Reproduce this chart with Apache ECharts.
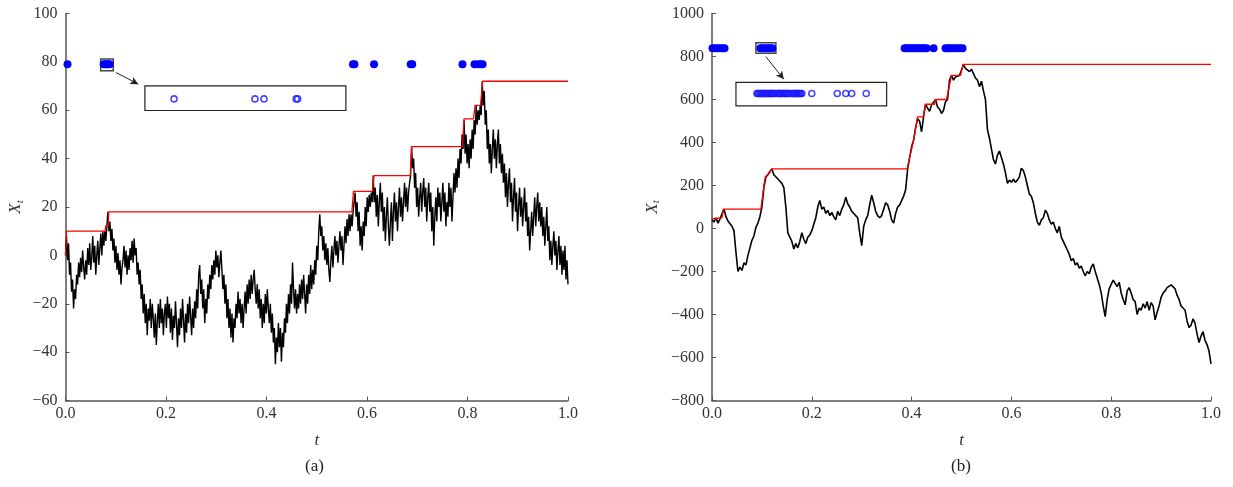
<!DOCTYPE html>
<html><head><meta charset="utf-8">
<script src="https://cdn.jsdelivr.net/npm/echarts@6/dist/echarts.min.js"></script>
<style>html,body{margin:0;padding:0;background:#fff}#c{width:1233px;height:487px}</style>
</head><body><div id="c"></div>
<script>
// ---------- data ----------
const xTickLabels = ['0.0', '0.2', '0.4', '0.6', '0.8', '1.0'];
const captions = ['(a)', '(b)'];

// (a) path values, sampled evenly over t in [0,1]
const leftPath = [
0,8,-2,5,-8,-3,-15,-10,-22,-14,
-18,-8,-12,-3,-9,-1,-7,2,-5,-10,
-2,-8,3,-4,5,-6,-1,8,-3,4,
-8,0,6,-4,3,9,0,10,4,10,
6,12,
18,10,14,6,11,2,7,-3,4,-6,
1,-8,-2,-12,-5,-2,4,-5,2,-8,
0,-6,3,-2,6,-3,7,0,3,-8,
-3,-12,-6,-18,-12,-24,-16,-28,-20,-33,
-22,-27,-18,-30,-20,-26,-34,-24,-37,-27,
-20,-30,-18,-28,-22,-33,-24,-20,-30,-17,
-26,-20,-32,-22,-35,-25,-30,-19,-28,-38,
-26,-33,-22,-30,-18,-27,-36,-24,-32,-20,
-28,-17,-25,-33,-22,-30,-19,-26,-14,-22,
-8,-4,-16,-10,-22,-14,-28,-18,-24,-12,
-18,-8,-14,-4,-10,-2,-8,2,-5,0,
-9,-3,2,-6,-14,-8,-20,-12,-26,-18,
-30,-22,-34,-24,-36,-26,-30,-20,-26,-15,
-24,-18,-28,-20,-30,-22,-15,-24,-12,-20,
-10,-18,-8,-16,-10,-6,-14,-20,-12,-22,
-14,-26,-18,-30,-20,-28,-16,-24,-14,-22,
-28,-20,-32,-24,-36,-30,-45,-34,-40,-28,
-38,-30,-44,-32,-38,-26,-32,-20,-28,-16,
-24,-12,-20,-3,-14,-22,-14,-24,-16,-22,
-12,-20,-10,-18,-8,-16,-24,-12,-20,-8,
-16,-4,-14,-6,-12,-2,-8,4,-2,10,
17,8,12,2,8,-2,5,-4,3,-6,
-11,-2,4,-5,2,8,0,6,-3,4,
10,2,8,-4,4,12,5,15,8,17,
10,17,12,18,22,26,16,22,10,18,
4,12,2,14,8,20,12,24,18,25,
20,26,22,33,22,28,16,25,12,22,
30,18,26,10,20,6,16,24,12,4,
14,22,6,18,26,14,22,10,20,28,
16,24,14,22,30,20,28,18,26,30,
33,45,36,40,28,34,20,28,16,24,30,
18,26,32,20,28,14,24,30,18,26,
10,20,4,16,24,14,28,20,26,14,
22,30,18,26,12,22,16,30,20,28,
14,24,34,26,36,28,40,32,44,38,
50,44,56,42,50,38,46,36,48,40,
52,44,56,50,62,54,60,56,62,58,
72,62,68,54,60,44,52,38,46,34,
44,52,40,48,36,46,52,38,46,34,
42,30,38,24,34,20,30,36,22,30,
14,24,32,18,26,10,20,28,16,24,
12,20,28,14,22,8,16,2,10,18,
8,16,24,12,20,26,14,22,12,20,
8,16,4,12,20,6,12,-2,6,-4,
4,10,0,6,-6,2,8,-4,4,-8,
2,-6,4,-10,-2,-12
];
// (a) running maximum, [t, value]
const leftMax = [[0,0],[0.002,10],[0.079,10],[0.080,12.2],[0.085,12.2],[0.086,18],[0.570,18],[0.573,26.5],[0.611,26.5],[0.614,33],[0.686,33],[0.689,45],[0.790,45],[0.793,56.4],[0.812,56.4],[0.815,62],[0.826,62],[0.830,72],[1,72]];
const leftDotT = [0.004,0.076,0.079,0.082,0.085,0.088,0.572,0.575,0.614,0.687,0.690,0.790,0.814,0.821,0.826,0.830];
const leftDotY = 79;
const leftInsetT = [0.216,0.377,0.395,0.459,0.462];
const leftInsetY = 64.7;
const leftSmallBox = [[0.070,76.3],[0.095,81.2]];
const leftInsetBox = [[0.158,59.9],[0.558,70.1]];
const leftArrow = [[0.1005,75.6],[0.145,70.8]];

// (b) path values, sampled evenly over t in [0,1]
const rightPath = [
40,30,50,25,45,50,90,55,35,30,
10,-10,-110,-200,-180,-195,-160,-170,-125,-90,
-55,-35,5,25,55,100,190,240,250,265,
277,250,255,230,235,210,190,100,-20,-40,
-60,-95,-70,-90,-60,-20,-50,-70,-40,-30,
-10,20,50,100,130,90,100,70,85,60,
75,55,40,80,60,90,110,145,115,100,
80,85,60,50,-20,-80,10,40,60,110,
155,120,80,60,50,60,90,120,110,80,
40,25,70,100,110,130,150,180,275,330,
380,410,470,510,500,450,520,578,560,545,
575,570,600,565,555,535,550,590,600,690,
712,690,705,700,712,737,762,745,750,730,
740,720,700,690,660,685,640,600,460,420,
370,320,300,340,360,330,300,260,210,225,
215,230,215,225,240,280,270,240,200,160,
150,120,70,30,15,40,50,85,70,40,
20,30,0,-20,10,-40,-60,-80,-100,-120,
-150,-140,-170,-160,-185,-175,-200,-220,-200,-210,
-180,-165,-200,-230,-260,-300,-360,-410,-330,-280,
-260,-240,-255,-270,-250,-300,-330,-355,-290,-275,
-300,-330,-340,-400,-370,-380,-350,-370,-340,-380,
-345,-360,-425,-390,-360,-320,-300,-290,-275,-280,
-262,-265,-280,-310,-330,-360,-370,-380,-430,-460,
-450,-420,-440,-490,-530,-500,-480,-520,-540,-570,
-630
];
const rightMax = [[0,45],[0.002,50],[0.020,50],[0.023,90],[0.098,90],[0.104,200],[0.107,242],[0.112,250],[0.120,277],[0.391,277],[0.396,330],[0.404,410],[0.412,519],[0.423,519],[0.428,578],[0.446,578],[0.448,600],[0.470,600],[0.480,712],[0.498,712],[0.503,763],[1,763]];
const rightDotT = [0.001,0.006,0.011,0.016,0.021,0.025,0.097,0.101,0.105,0.109,0.113,0.117,0.121,
  0.386,0.390,0.394,0.398,0.402,0.406,0.410,0.414,0.418,0.422,0.426,0.430,0.444,
  0.468,0.472,0.476,0.481,0.486,0.492,0.497,0.502];
const rightDotY = 838;
const rightInsetT = [
  0.090,0.092,0.094,0.096,0.098,0.100,0.102,0.104,0.106,0.108,0.110,0.112,0.114,0.116,0.118,0.120,0.122,0.124,0.126,
  0.131,0.133,0.135,0.137,0.139,0.141,0.143,0.145,0.147,0.149,0.151,0.153,0.155,
  0.160,0.162,0.164,0.166,0.168,0.170,0.172,0.174,0.176,0.178,0.180,
  0.200,0.251,0.268,0.280,0.309];
const rightInsetY = 628;
const rightSmallBox = [[0.088,815],[0.128,864]];
const rightInsetBox = [[0.048,570],[0.350,680]];
const rightArrow = [[0.108,799],[0.144,694]];

// ---------- chart ----------
const FONT = 'Liberation Serif';
const minus = v => (v < 0 ? '\u2212' + Math.abs(v) : String(v));
function xAx(g) {
  return {
    type: 'value', gridIndex: g, min: 0, max: 1, interval: 0.2,
    axisLine: {onZero: false, lineStyle: {color: '#555', width: 1.5}},
    axisTick: {inside: true, length: 4, lineStyle: {color: '#555', width: 1}},
    splitLine: {show: false},
    axisLabel: {formatter: v => xTickLabels[Math.round(v / 0.2)], fontFamily: FONT, fontSize: 16, color: '#333', margin: 5},
    name: 't', nameLocation: 'middle', nameGap: 32,
    nameTextStyle: {fontFamily: FONT, fontSize: 17, fontStyle: 'italic', color: '#333'}
  };
}
function yAx(g, mn, mx, iv, gap) {
  return {
    type: 'value', gridIndex: g, min: mn, max: mx, interval: iv,
    axisLine: {show: true, onZero: false, lineStyle: {color: '#555', width: 1.5}},
    axisTick: {show: true, inside: true, length: 4, lineStyle: {color: '#555', width: 1}},
    splitLine: {show: false},
    axisLabel: {formatter: minus, fontFamily: FONT, fontSize: 16, color: '#333', margin: 8},
    name: '{x|X}{s|t}', nameLocation: 'middle', nameRotate: 90, nameGap: gap,
    nameTextStyle: {rich: {
      x: {fontFamily: FONT, fontSize: 17, fontStyle: 'italic', color: '#333'},
      s: {fontFamily: FONT, fontSize: 11, fontStyle: 'italic', color: '#333', verticalAlign: 'bottom', padding: [8, 0, 0, 0]}
    }}
  };
}
function pathSeries(g, vals, w) {
  return {type: 'line', xAxisIndex: g, yAxisIndex: g, data: vals.map((v, i) => [i / (vals.length - 1), v]),
    showSymbol: false, symbol: 'none', lineStyle: {color: '#000', width: w}, z: 2, silent: true};
}
function maxSeries(g, pts) {
  return {type: 'line', xAxisIndex: g, yAxisIndex: g, data: pts, showSymbol: false, symbol: 'none',
    lineStyle: {color: '#ff0000', width: 1.3}, z: 3, silent: true};
}
function dotSeries(g, ts, y, small, inset, arrow) {
  return {type: 'scatter', xAxisIndex: g, yAxisIndex: g, data: ts.map(t => [t, y]), symbolSize: 8,
    itemStyle: {color: '#0000ff', opacity: 1}, z: 4, silent: true,
    markArea: {silent: true, data: [
      [{coord: small[0], itemStyle: {color: 'rgba(0,0,0,0)', borderColor: '#444', borderWidth: 1.5}}, {coord: small[1]}],
      [{coord: inset[0], itemStyle: {color: 'rgba(0,0,0,0)', borderColor: '#222', borderWidth: 1.2}}, {coord: inset[1]}]
    ], label: {show: false}},
    markLine: {silent: true, symbol: ['none', 'arrow'], symbolSize: [6, 8], label: {show: false},
      lineStyle: {color: '#222', width: 1, type: 'solid'}, animation: false,
      data: [[{coord: arrow[0]}, {coord: arrow[1]}]]}
  };
}
function insetSeries(g, ts, y) {
  return {type: 'scatter', xAxisIndex: g, yAxisIndex: g, data: ts.map(t => [t, y]), symbol: 'circle', symbolSize: 6,
    itemStyle: {color: 'rgba(0,0,0,0)', borderColor: '#1a1aff', borderWidth: 1.6}, z: 4, silent: true};
}

const chart = echarts.init(document.getElementById('c'), null, {renderer: 'canvas'});
chart.setOption({
  animation: false,
  backgroundColor: '#fff',
  grid: [
    {left: 65.5, top: 13.5, width: 502.5, height: 387},
    {left: 712, top: 13.5, width: 499, height: 387}
  ],
  xAxis: [xAx(0), xAx(1)],
  yAxis: [yAx(0, -60, 100, 20, 40), yAx(1, -800, 1000, 200, 50)],
  series: [
    pathSeries(0, leftPath, 1.4), maxSeries(0, leftMax),
    dotSeries(0, leftDotT, leftDotY, leftSmallBox, leftInsetBox, leftArrow), insetSeries(0, leftInsetT, leftInsetY),
    pathSeries(1, rightPath, 1.6), maxSeries(1, rightMax),
    dotSeries(1, rightDotT, rightDotY, rightSmallBox, rightInsetBox, rightArrow), insetSeries(1, rightInsetT, rightInsetY)
  ],
  graphic: [
    {type: 'text', left: 305, top: 458, style: {text: captions[0], font: '17px "Liberation Serif"', fill: '#222'}},
    {type: 'text', left: 951, top: 458, style: {text: captions[1], font: '17px "Liberation Serif"', fill: '#222'}}
  ]
});
</script></body></html>
